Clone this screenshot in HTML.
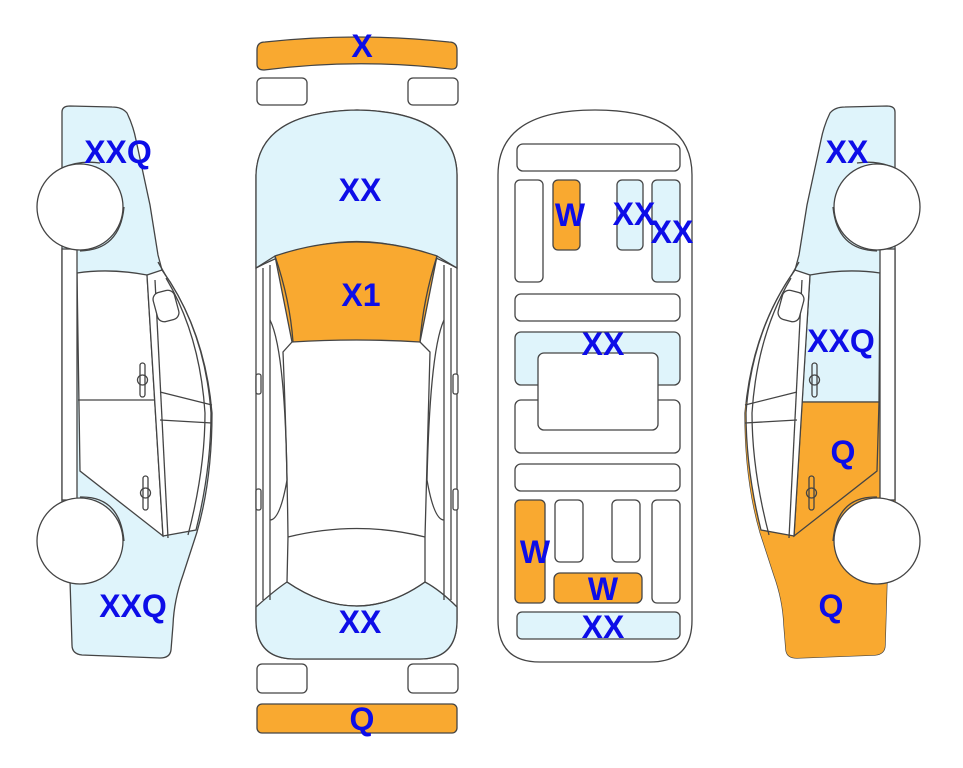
<!DOCTYPE html>
<html><head><meta charset="utf-8"><style>
html,body{margin:0;padding:0;background:#fff;}
svg{display:block;}
text{font-family:"Liberation Sans",Arial,sans-serif;font-weight:bold;fill:#0d0de8;font-size:32px;text-anchor:middle;}
</style></head><body>
<svg width="963" height="768" viewBox="0 0 963 768" xmlns="http://www.w3.org/2000/svg">
<defs>
<clipPath id="lower"><rect x="0" y="402" width="963" height="400"/></clipPath>
</defs>
<g stroke="#444" stroke-width="1.3" fill="none">

<!-- LEFT CAR -->
<g id="lc">
<path d="M62,112 Q62,106 70,106 L112,107 Q122,107 127,113 Q133,125 136,140 L150,205 L158,255 L162,270 Q205,330 212,413 Q212,480 197,532 L183,575 Q174,600 173,625 L171,650 Q170,658 160,658 L82,655 Q72,654 72,645 L70,580 L62,560 Z" fill="#dff4fb"/>
<path d="M77,273 Q110,268 147,275 L163,536 L80,471 Z" fill="#fff"/>
<path d="M147,275 L162,270 Q205,330 211,413 Q211,470 196,530 L163,536 Z" fill="#fff"/>
<path d="M78,400 L155,400"/>
<path d="M166,278 Q200,335 205,413 Q205,470 188,535"/>
<path d="M155,280 L168,538"/>
<path d="M160,392 L212,405 M160,420 L212,423"/>
<path d="M158,262 L166,276"/>
<rect x="62" y="249" width="15" height="251" fill="#fff"/>
<rect x="155" y="291" width="22" height="30" rx="7" fill="#fff" transform="rotate(-15 166 306)"/>
<rect x="140" y="363" width="5" height="34" rx="2.5" fill="#fff"/><circle cx="142.5" cy="380" r="5"/>
<rect x="143" y="476" width="5" height="34" rx="2.5" fill="#fff"/><circle cx="145.5" cy="493" r="5"/>
<path d="M62,168 Q80,160 100,163" />
<circle cx="80" cy="207" r="43" fill="#fff"/>
<path d="M80,251 Q120,250 124,207"/>
<circle cx="80" cy="541" r="43" fill="#fff"/>
<path d="M80,497 Q120,496 124,541"/>
</g>

<!-- RIGHT CAR (mirror) -->
<g transform="translate(957,0) scale(-1,1)">
<path d="M62,112 Q62,106 70,106 L112,107 Q122,107 127,113 Q133,125 136,140 L150,205 L158,255 L162,270 Q205,330 212,413 Q212,480 197,532 L183,575 Q174,600 173,625 L171,650 Q170,658 160,658 L82,655 Q72,654 72,645 L70,580 L62,560 Z" fill="#dff4fb"/>
<path d="M62,112 Q62,106 70,106 L112,107 Q122,107 127,113 Q133,125 136,140 L150,205 L158,255 L162,270 Q205,330 212,413 Q212,480 197,532 L183,575 Q174,600 173,625 L171,650 Q170,658 160,658 L82,655 Q72,654 72,645 L70,580 L62,560 Z" fill="#f9a930" stroke="none" clip-path="url(#lower)"/>
<path d="M77,273 Q110,268 147,275 L155,402 L78,402 Z" fill="#dff4fb"/>
<path d="M78,402 L155,402 L163,536 L80,471 Z" fill="#f9a930"/>
<path d="M147,275 L162,270 Q205,330 211,413 Q211,470 196,530 L163,536 Z" fill="#fff"/>
<path d="M166,278 Q200,335 205,413 Q205,470 188,535"/>
<path d="M155,280 L168,538"/>
<path d="M160,392 L212,405 M160,420 L212,423"/>
<path d="M158,262 L166,276"/>
<rect x="62" y="249" width="15" height="251" fill="#fff"/>
<rect x="155" y="291" width="22" height="30" rx="7" fill="#fff" transform="rotate(-15 166 306)"/>
<rect x="140" y="363" width="5" height="34" rx="2.5" fill="#dff4fb"/><circle cx="142.5" cy="380" r="5"/>
<rect x="143" y="476" width="5" height="34" rx="2.5" fill="#f9a930"/><circle cx="145.5" cy="493" r="5"/>
<path d="M62,168 Q80,160 100,163" />
<circle cx="80" cy="207" r="43" fill="#fff"/>
<path d="M80,251 Q120,250 124,207"/>
<circle cx="80" cy="541" r="43" fill="#fff"/>
<path d="M80,497 Q120,496 124,541"/>
</g>

<!-- TOP VIEW -->
<path d="M257,50 Q257,42 265,42 Q357,32 449,42 Q457,42 457,50 L457,64 Q457,70 450,69 Q357,58 264,70 Q257,70 257,64 Z" fill="#f9a930"/>
<rect x="257" y="78" width="50" height="27" rx="5" fill="#fff"/>
<rect x="408" y="78" width="50" height="27" rx="5" fill="#fff"/>
<path d="M256,175 Q258,112 357,110 Q456,112 457,175 L457,620 Q457,659 420,659 L295,659 Q256,659 256,620 Z" fill="#fff"/>
<path d="M256,175 Q258,112 357,110 Q456,112 457,175 L457,268 Q357,215 256,268 Z" fill="#dff4fb"/>
<path d="M256,607 Q275,590 287,582 Q357,630 425,582 Q440,590 457,607 L457,620 Q457,659 420,659 L295,659 Q256,659 256,620 Z" fill="#dff4fb"/>
<path d="M275,256 Q357,228 437,256 L420,342 Q357,338 292,342 Z" fill="#f9a930"/>
<path d="M256,268 L275,256 M457,268 L437,256"/>
<path d="M292,342 L283,352 Q287,450 288,537 M420,342 L430,352 Q427,450 425,537"/>
<path d="M288,537 Q357,520 425,537 M287,582 Q357,630 425,582"/>
<path d="M288,537 L287,582 M425,537 L425,582"/>
<path d="M263,268 L263,600 M270,265 L270,600 M451,268 L451,600 M444,265 L444,600"/>
<path d="M275,256 Q290,300 293,342 M437,256 Q423,300 420,342"/>
<path d="M270,320 Q285,350 287,480 Q280,520 270,520 M444,320 Q430,350 427,480 Q434,520 444,520"/>
<rect x="256" y="374" width="5" height="20" rx="2" fill="#fff"/>
<rect x="256" y="489" width="5" height="21" rx="2" fill="#fff"/>
<rect x="453" y="374" width="5" height="20" rx="2" fill="#fff"/>
<rect x="453" y="489" width="5" height="21" rx="2" fill="#fff"/>
<rect x="257" y="664" width="50" height="29" rx="5" fill="#fff"/>
<rect x="408" y="664" width="50" height="29" rx="5" fill="#fff"/>
<rect x="257" y="704" width="200" height="29" rx="5" fill="#f9a930"/>

<!-- UNDERBODY -->
<path d="M498,175 Q498,110 595,110 Q692,110 692,175 L692,620 Q692,662 650,662 L540,662 Q498,662 498,620 Z" fill="#fff"/>
<rect x="517" y="144" width="163" height="27" rx="6" fill="#fff"/>
<rect x="515" y="180" width="28" height="102" rx="5" fill="#fff"/>
<rect x="553" y="180" width="27" height="70" rx="5" fill="#f9a930"/>
<rect x="617" y="180" width="26" height="70" rx="5" fill="#dff4fb"/>
<rect x="652" y="180" width="28" height="102" rx="5" fill="#dff4fb"/>
<rect x="515" y="294" width="165" height="27" rx="6" fill="#fff"/>
<rect x="515" y="332" width="165" height="53" rx="6" fill="#dff4fb"/>
<rect x="515" y="400" width="165" height="53" rx="6" fill="#fff"/>
<rect x="538" y="353" width="120" height="77" rx="6" fill="#fff"/>
<rect x="515" y="464" width="165" height="27" rx="6" fill="#fff"/>
<rect x="515" y="500" width="30" height="103" rx="5" fill="#f9a930"/>
<rect x="555" y="500" width="28" height="62" rx="5" fill="#fff"/>
<rect x="612" y="500" width="28" height="62" rx="5" fill="#fff"/>
<rect x="652" y="500" width="28" height="103" rx="5" fill="#fff"/>
<rect x="554" y="573" width="88" height="30" rx="6" fill="#f9a930"/>
<rect x="517" y="612" width="163" height="27" rx="5" fill="#dff4fb"/>
</g>

<!-- LABELS -->
<text x="118" y="163">XXQ</text>
<text x="133" y="617">XXQ</text>
<text x="362" y="57">X</text>
<text x="360" y="201">XX</text>
<text x="361" y="306">X1</text>
<text x="360" y="633">XX</text>
<text x="362" y="730">Q</text>
<text x="570" y="226">W</text>
<text x="634" y="225">XX</text>
<text x="672" y="243">XX</text>
<text x="603" y="355">XX</text>
<text x="535" y="563">W</text>
<text x="603" y="600">W</text>
<text x="603" y="638">XX</text>
<text x="847" y="163">XX</text>
<text x="841" y="352">XXQ</text>
<text x="843" y="463">Q</text>
<text x="831" y="617">Q</text>
</svg>
</body></html>
